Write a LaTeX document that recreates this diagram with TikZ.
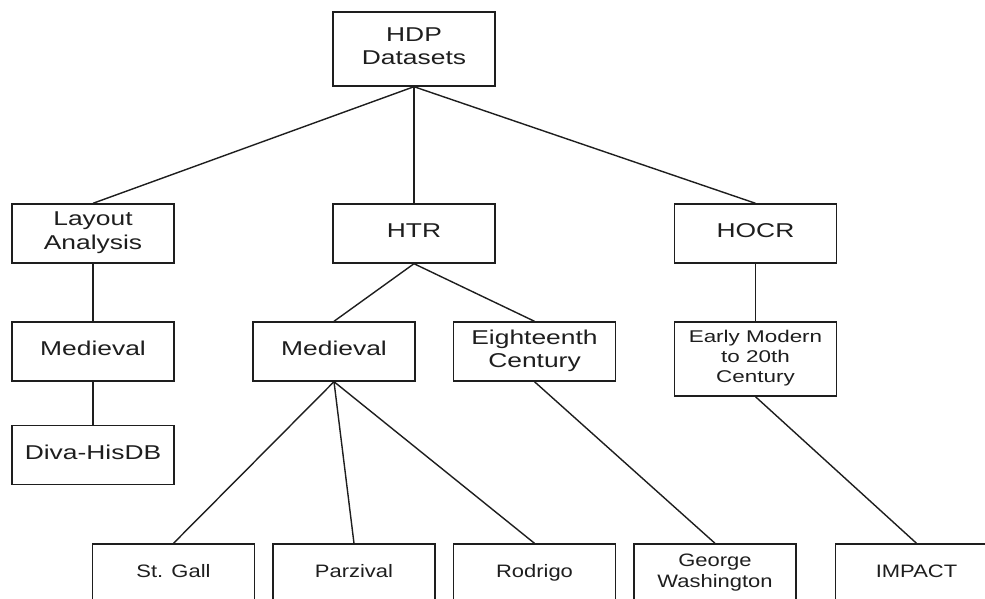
\documentclass[tikz,border=0pt]{standalone}
\usepackage{fontspec}
\setmainfont[FakeStretch=1.32]{Liberation Sans}
\newfontfamily\lowfam[FakeStretch=1.22]{Liberation Sans}
\definecolor{ink}{HTML}{1E1E1E}
\begin{document}
\begin{tikzpicture}[x=1pt,y=-1pt,
  box/.style={draw=ink, line width=1.4pt, text=ink, minimum width=162pt, minimum height=59pt,
    inner sep=0pt, text depth=5.5pt, align=center, font=\fontsize{20}{23.3}\selectfont},
  tall/.style={minimum height=74pt},
  small/.style={font=\lowfam\fontsize{18}{20.7}\selectfont},
  tiny/.style={font=\fontsize{17}{20}\selectfont},
  link/.style={draw=ink, line width=1.4pt}]
\path[use as bounding box, clip] (0,0) rectangle (985,599);
\fill[white] (0,0) rectangle (985,599);
\node[box,tall] (hdp) at (414,49) {HDP\\Datasets};
\node[box] (layout) at (93,233.5) {Layout\\Analysis};
\node[box] (htr) at (414,233.5) {HTR};
\node[box] (hocr) at (755.5,233.5) {HOCR};
\node[box] (med1) at (93,351.5) {Medieval};
\node[box] (medh) at (334,351.5) {Medieval};
\node[box] (eight) at (534.5,351.5) {Eighteenth\\Century};
\node[box,tall,tiny] (early) at (755.5,359) {Early Modern\\to 20th\\Century};
\node[box] (diva) at (93,455) {Diva-HisDB};
\node[box,small] (stgall) at (173.5,573.5) {St. Gall};
\node[box,small] (parz) at (354,573.5) {Parzival};
\node[box,small] (rod) at (534.5,573.5) {Rodrigo};
\node[box,small] (george) at (715,573.5) {George\\Washington};
\node[box,small] (impact) at (916.5,573.5) {IMPACT};
\draw[link] (hdp.south) -- (layout.north);
\draw[link] (hdp.south) -- (htr.north);
\draw[link] (hdp.south) -- (hocr.north);
\draw[link] (layout.south) -- (med1.north);
\draw[link] (med1.south) -- (diva.north);
\draw[link] (htr.south) -- (medh.north);
\draw[link] (htr.south) -- (eight.north);
\draw[link] (hocr.south) -- (early.north);
\draw[link] (medh.south) -- (stgall.north);
\draw[link] (medh.south) -- (parz.north);
\draw[link] (medh.south) -- (rod.north);
\draw[link] (eight.south) -- (george.north);
\draw[link] (early.south) -- (impact.north);
\end{tikzpicture}
\end{document}
